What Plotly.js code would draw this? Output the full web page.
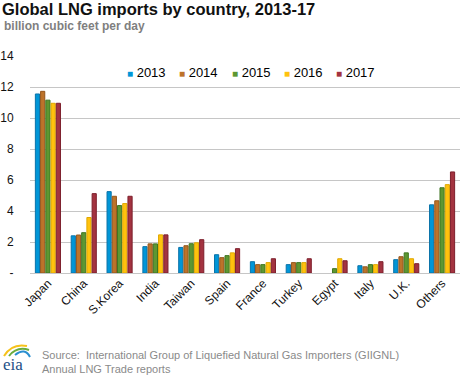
<!DOCTYPE html>
<html><head><meta charset="utf-8">
<script src="https://cdn.plot.ly/plotly-3.0.1.min.js"></script>
<style>body{margin:0;padding:0;background:#fff}#chart{width:468px;height:378px}</style>
</head><body><div id="chart"></div>
<script>
const countries = ['Japan','China','S.Korea','India','Taiwan','Spain','France','Turkey','Egypt','Italy','U.K.','Others'];
const years = ['2013','2014','2015','2016','2017'];
const v2013 = [11.55, 2.40, 5.25, 1.70, 1.65, 1.18, 0.73, 0.54, null, 0.47, 0.86, 4.40];
const v2014 = [11.72, 2.45, 4.95, 1.88, 1.76, 0.99, 0.54, 0.67, null, 0.40, 1.05, 4.66];
const v2015 = [11.15, 2.60, 4.35, 1.88, 1.89, 1.12, 0.54, 0.67, 0.28, 0.54, 1.30, 5.50];
const v2016 = [10.95, 3.58, 4.48, 2.46, 1.95, 1.30, 0.67, 0.67, 0.92, 0.54, 0.92, 5.70];
const v2017 = [10.95, 5.12, 4.95, 2.46, 2.15, 1.57, 0.92, 0.92, 0.79, 0.73, 0.60, 6.52];
const seriesValues = [v2013, v2014, v2015, v2016, v2017];
const yTickVals = [0,2,4,6,8,10,12,14];
const yTickText = ['-','2','4','6','8','10','12','14'];
const fills = ['#0096d7','#bd732a','#5d9732','#ffc20e','#a33340'];
const lines = ['#0b72a8','#94561c','#3f7622','#e0a800','#7d1f2c'];

const W = 468, H = 378, L = 30, R = 8, T = 56, B = 105;
const pw = W - L - R, ph = H - T - B;
const px = x => (x - L) / pw;
const py = y => (H - B - y) / ph;

const traces = years.map((yr, i) => ({
  type: 'bar', name: yr, x: countries, y: seriesValues[i],
  marker: {color: fills[i], line: {color: lines[i], width: 1}},
  hoverinfo: 'x+y+name'
}));

const legendItems = years.map((yr, i) =>
  '<span style="color:' + fills[i] + ';font-size:10px">■</span>\u00a0' + yr);

const font = 'Arial, "Liberation Sans", sans-serif';
const legendAnns = legendItems.map((t, i) => ({
  xref: 'paper', yref: 'paper', x: px(125 + i * 52.3), y: py(72), xanchor: 'left', yanchor: 'middle', showarrow: false,
  text: t, font: {family: font, size: 13, color: '#000'}
}));

const layout = {
  width: W, height: H,
  margin: {l: L, r: R, t: T, b: B},
  paper_bgcolor: '#fff', plot_bgcolor: '#fff',
  showlegend: false,
  barmode: 'group', bargap: 0.27, bargroupgap: 0.2,
  font: {family: font, size: 12, color: '#000'},
  title: {text: '<b>Global LNG imports by country, 2013-17</b>', x: 2 / W, xanchor: 'left', y: 0.99, yanchor: 'top', xref: 'container', yref: 'container',
          font: {family: font, size: 16.5, color: '#111'}, pad: {l: 0, t: 0}},
  xaxis: {type: 'category', tickangle: -45, showgrid: false, showline: false, zeroline: false,
          ticks: '', tickfont: {family: font, size: 12, color: '#111'}, fixedrange: true},
  yaxis: {range: [0, 14], tickvals: yTickVals, ticktext: yTickText, showgrid: true, gridcolor: '#c6c6c6', gridwidth: 1,
          zeroline: true, zerolinecolor: '#c6c6c6', zerolinewidth: 1, showline: false,
          ticks: 'outside', ticklen: 13, tickcolor: 'rgba(0,0,0,0)',
          tickfont: {family: font, size: 12, color: '#111'}, fixedrange: true},
  annotations: [
    {xref: 'paper', yref: 'paper', x: px(2), y: py(26), xanchor: 'left', yanchor: 'middle', showarrow: false,
     text: '<b>billion cubic feet per day</b>', font: {family: font, size: 12, color: '#7f7f7f'}},
    {xref: 'paper', yref: 'paper', x: px(40), y: py(362), xanchor: 'left', yanchor: 'middle', showarrow: false, align: 'left',
     text: 'Source:  International Group of Liquefied Natural Gas Importers (GIIGNL)<br>Annual LNG Trade reports',
     font: {family: font, size: 11, color: '#8a8a8a'}},
    {xref: 'paper', yref: 'paper', x: px(1), y: py(364), xanchor: 'left', yanchor: 'middle', showarrow: false,
     text: 'eia', font: {family: '"Liberation Serif", "DejaVu Serif", serif', size: 17, color: '#1d4f86'}}
  ].concat(legendAnns),
  shapes: [
    {type: 'path', xref: 'paper', yref: 'paper', line: {color: '#f6c21b', width: 2},
     path: 'M ' + px(4) + ' ' + py(356) + ' Q ' + px(12) + ' ' + py(343) + ' ' + px(27) + ' ' + py(346)},
    {type: 'path', xref: 'paper', yref: 'paper', line: {color: '#6aac3c', width: 2},
     path: 'M ' + px(9) + ' ' + py(356) + ' Q ' + px(17) + ' ' + py(346) + ' ' + px(29) + ' ' + py(350)},
    {type: 'path', xref: 'paper', yref: 'paper', line: {color: '#2a8fd0', width: 2},
     path: 'M ' + px(15) + ' ' + py(355) + ' Q ' + px(25) + ' ' + py(347) + ' ' + px(30) + ' ' + py(357)}
  ]
};

Plotly.newPlot('chart', traces, layout, {displayModeBar: false, staticPlot: true});
</script></body></html>
